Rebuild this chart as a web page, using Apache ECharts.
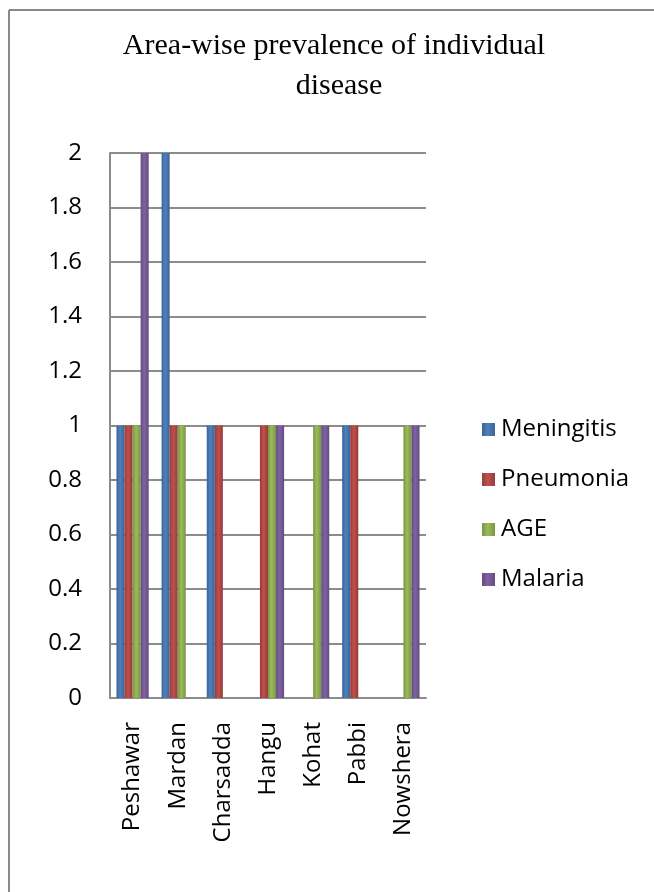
<!DOCTYPE html>
<html>
<head>
<meta charset="utf-8">
<script src="https://cdn.jsdelivr.net/npm/echarts@6/dist/echarts.min.js"></script>
<style>html,body{margin:0;padding:0;background:#fff}#c{width:654px;height:892px}</style>
</head>
<body>
<div id="c"></div>
<script>
var categories = ['Peshawar','Mardan','Charsadda','Hangu','Kohat','Pabbi','Nowshera'];
var meningitis = [1,2,1,0,0,1,0];
var pneumonia  = [1,1,1,1,0,1,0];
var age        = [1,1,0,1,1,0,1];
var malaria    = [2,0,0,1,1,0,1];
var seriesNames = ['Meningitis','Pneumonia','AGE','Malaria'];
var yTicks = ['0','0.2','0.4','0.6','0.8','1','1.2','1.4','1.6','1.8','2'];
var titleLine1 = 'Area-wise prevalence of individual';
var titleLine2 = 'disease';

var colors = ['#4F81BD','#C0504D','#9BBB59','#8064A2'];
var dark = ['#3A6396','#943C3A','#7A9545','#634C80'];
function grad(i){
  return {type:'linear',x:0,y:0,x2:1,y2:0,colorStops:[
    {offset:0,color:dark[i]},{offset:0.45,color:colors[i]},{offset:1,color:dark[i]}]};
}
var data = [meningitis, pneumonia, age, malaria];
var chart = echarts.init(document.getElementById('c'));
chart.setOption({
  animation:false,
  backgroundColor:'#fff',
  graphic:[
    {type:'line',shape:{x1:9,y1:10,x2:654,y2:10},style:{stroke:'#8a8a8a',lineWidth:2}},
    {type:'line',shape:{x1:9,y1:10,x2:9,y2:892},style:{stroke:'#8a8a8a',lineWidth:2}}
  ],
  title:[
    {text:titleLine1,left:334,top:30,textAlign:'center',padding:0,
     textStyle:{fontFamily:'Liberation Serif',fontSize:30,fontWeight:'normal',color:'#000',lineHeight:32}},
    {text:titleLine2,left:339,top:70,textAlign:'center',padding:0,
     textStyle:{fontFamily:'Liberation Serif',fontSize:30,fontWeight:'normal',color:'#000',lineHeight:32}}
  ],
  legend:{
    orient:'vertical', left:477, top:408,
    itemWidth:13, itemHeight:13, itemGap:17,
    icon:'rect',
    textStyle:{fontFamily:'Open Sans',fontSize:24,color:'#000',lineHeight:33,padding:[0,0,0,1]},
    data:seriesNames
  },
  grid:{left:110,right:228,top:153,bottom:194,containLabel:false},
  xAxis:{
    type:'category', data:categories,
    axisLine:{lineStyle:{color:'#8c8c8c',width:2}},
    axisTick:{show:false},
    axisLabel:{rotate:90,margin:24,fontFamily:'Open Sans',fontSize:24,color:'#000'}
  },
  yAxis:{
    type:'value', min:0, max:2, interval:0.2,
    axisLine:{show:true,lineStyle:{color:'#8c8c8c',width:2}},
    axisTick:{show:false},
    splitLine:{lineStyle:{color:'#8c8c8c',width:2}},
    axisLabel:{margin:28,fontFamily:'Open Sans',fontSize:24,color:'#000',
      formatter:function(v){var i=Math.round(v/0.2);return yTicks[i];}}
  },
  series: seriesNames.map(function(n,i){
    return {name:n,type:'bar',data:data[i],barGap:'0%',barCategoryGap:'28.6%',
      itemStyle:{color:grad(i)}};
  }),
  color:colors
});
</script>
</body>
</html>
